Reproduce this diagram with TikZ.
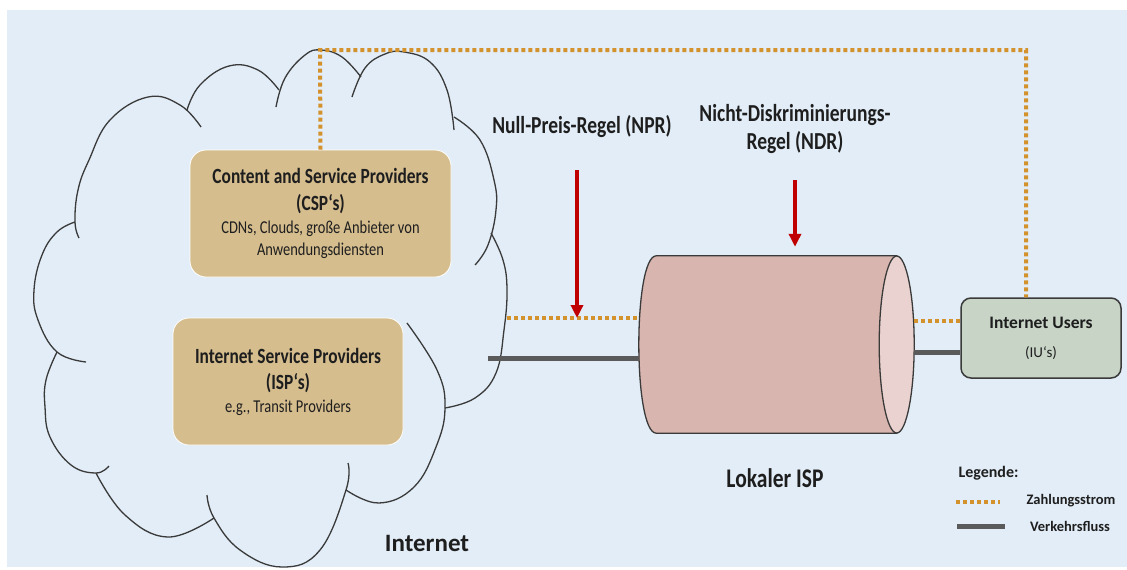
\documentclass[tikz,border=0pt]{standalone}
\usepackage{fontspec}
\setmainfont{Carlito}
\newfontfamily\condfont{Carlito}[FakeStretch=0.8]
\usetikzlibrary{arrows.meta}
\definecolor{bgblue}{HTML}{E2EDF7}
\definecolor{tanbox}{HTML}{D5BD8E}
\definecolor{userbox}{HTML}{C7D4C6}
\definecolor{pipebody}{HTML}{D8B5AE}
\definecolor{pipeend}{HTML}{E9D2CF}
\definecolor{payorange}{HTML}{D4922D}
\definecolor{trafficgrey}{HTML}{5A5A5A}
\definecolor{rulered}{HTML}{C00000}
\definecolor{inkgrey}{HTML}{3A3A3A}
\definecolor{textdark}{HTML}{1E1E1E}
\newcommand{\boxtitle}{\fontsize{21.7}{22}\condfont\bfseries}
\newcommand{\boxsub}{\fontsize{18.1}{22}\condfont\mdseries}
\newcommand{\usertitle}{\fontsize{17.5}{22}\selectfont\bfseries}
\newcommand{\usersub}{\fontsize{15}{22}\selectfont\mdseries}
\begin{document}
\begin{tikzpicture}[x=1pt,y=-1pt,
	cloudline/.style={draw=inkgrey,line width=1.3pt},
	provider/.style={fill=tanbox,draw=white,line width=0.8pt,rounded corners=16pt,minimum height=127pt,align=center,text=textdark,inner sep=0pt,font=\fontsize{14.5}{22}\selectfont},
	users/.style={fill=userbox,draw=inkgrey,line width=1.5pt,rounded corners=10pt,minimum width=160pt,minimum height=80pt,align=center,text=textdark,inner sep=0pt,font=\fontsize{14.5}{22}\selectfont},
	payment/.style={draw=payorange,line width=4pt,dash pattern=on 4pt off 3pt},
	traffic/.style={draw=trafficgrey,line width=5pt},
	rulearrow/.style={draw=rulered,line width=4pt,-{Triangle[length=13pt,width=12pt]}},
	heading/.style={font=\fontsize{24.4}{28}\condfont\bfseries,text=textdark,align=center},
	legendtext/.style={font=\fontsize{14.5}{16}\selectfont\bfseries,text=textdark}]
\useasboundingbox (0,0) rectangle (1127,570);
\fill[bgblue] (7,10) rectangle (1127,567);
\draw[cloudline] plot[smooth,tension=0.7] coordinates {(79,238) (75,222) (78,190) (89,160) (110,120) (148,97) (180,105) (201,127)};
\draw[cloudline] plot[smooth,tension=0.7] coordinates {(187,110) (200,85) (229,66) (258,70) (279,90)};
\draw[cloudline] plot[smooth,tension=0.7] coordinates {(276,107) (285,78) (305,55) (321,50) (342,57) (361,77)};
\draw[cloudline] plot[smooth,tension=0.7] coordinates {(352,97) (365,68) (385,54) (404,52) (430,62) (447,90) (454,130)};
\draw[cloudline] plot[smooth,tension=0.7] coordinates {(454,117) (480,140) (494,180) (496,210) (488,245) (475,265)};
\draw[cloudline] plot[smooth,tension=0.7] coordinates {(491,233) (503,260) (507,290) (504,330) (496,373) (475,398) (445,408)};
\draw[cloudline] plot[smooth,tension=0.7] coordinates {(407,323) (437,370) (445,408) (436,447) (414,487) (379,503) (346,490)};
\draw[cloudline] plot[smooth,tension=0.7] coordinates {(348,463) (346,490) (320,550) (282,567) (240,550) (214,518) (207,495)};
\draw[cloudline] plot[smooth,tension=0.7] coordinates {(214,518) (168,537) (125,515) (96,473)};
\draw[cloudline] plot[smooth,tension=0.7] coordinates {(109,466) (96,473) (71,465) (50,437) (45,407) (46,380) (57,352)};
\draw[cloudline] plot[smooth,tension=0.7] coordinates {(86,362) (57,352) (38,320) (34,290) (42,255) (57,232) (75,222)};
\node[provider,minimum width=261pt] (csp) at (320.5,213.5) {\boxtitle Content and Service Providers\\[5pt]\boxtitle (CSP‘s)\\[1pt]\boxsub CDNs, Clouds, große Anbieter von\\\boxsub Anwendungsdiensten};
\node[provider,minimum width=230pt] (isp) at (288,381.5) {\boxtitle Internet Service Providers\\[4pt]\boxtitle (ISP‘s)\\[1pt]\boxsub e.g., Transit Providers};
\node[users] (iu) at (1041,338) {\usertitle Internet Users\\[7pt]\usersub (IU‘s)};
\node[minimum width=275pt,minimum height=177pt,inner sep=0pt] (lisp) at (776.5,344.5) {};
\coordinate (ltop) at ([xshift=17.5pt]lisp.north west);
\coordinate (lbot) at ([xshift=17.5pt]lisp.south west);
\coordinate (rtop) at ([xshift=-17.5pt]lisp.north east);
\coordinate (rbot) at ([xshift=-17.5pt]lisp.south east);
\coordinate (rmid) at ([xshift=-17.5pt]lisp.east);
\filldraw[fill=pipebody,draw=inkgrey,line width=1.3pt] (ltop) -- (rtop) -- (rbot) -- (lbot) .. controls +(-23.3,0) and +(-23.3,0) .. (ltop);
\filldraw[fill=pipeend,draw=inkgrey,line width=1.3pt] (rmid) ellipse [x radius=17.5pt,y radius=88.5pt];
\coordinate (cloudpay) at (507,318);
\coordinate (cloudtraffic) at (488,358);
\coordinate (paytop) at (320,50);
\draw[payment] (csp.north) -- (paytop) -| ([xshift=-15pt]iu.north);
\draw[payment] (cloudpay) -- (cloudpay -| lisp.west);
\draw[payment] ([yshift=17pt]iu.west) -- ([yshift=17pt]iu.west -| lisp.east);
\draw[traffic] (cloudtraffic) -- (cloudtraffic -| lisp.west);
\draw[traffic] ([yshift=-14pt]iu.west) -- ([yshift=-14pt]iu.west -| lisp.east);
\node[heading] (npr) at (582,127) {Null-Preis-Regel (NPR)};
\node[heading] (ndr) at (795,129) {Nicht-Diskriminierungs-\\Regel (NDR)};
\coordinate (npra) at (577,170);
\coordinate (ndra) at (795,180);
\draw[rulearrow] (npra) -- (npra |- cloudpay);
\draw[rulearrow,shorten >=9pt] (ndra) -- (ndra |- lisp.north);
\node[font=\fontsize{26.9}{28}\condfont\bfseries,text=textdark] (lisplabel) at (775,478) {Lokaler ISP};
\node[font=\fontsize{25}{28}\selectfont\bfseries,text=textdark] (netlabel) at (427,543) {Internet};
\node[font=\fontsize{16}{18}\selectfont\bfseries,text=textdark] (legend) at (988.5,473) {Legende:};
\node[legendtext] (paylegend) at (1071,501) {Zahlungsstrom};
\node[legendtext] (trafficlegend) at (1070,526) {Verkehrsfluss};
\coordinate (payA) at (956,502);
\coordinate (payB) at (1000,502);
\coordinate (trafficA) at (957,526);
\coordinate (trafficB) at (1005,526);
\draw[payment] (payA) -- (payB);
\draw[traffic] (trafficA) -- (trafficB);
\end{tikzpicture}
\end{document}
